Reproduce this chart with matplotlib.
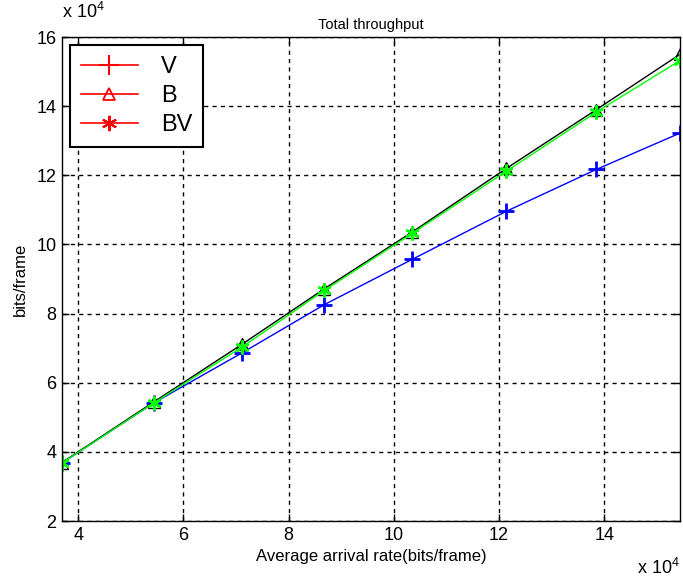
import matplotlib
matplotlib.use("Agg")
import matplotlib.pyplot as plt
from matplotlib.lines import Line2D
from matplotlib.ticker import FuncFormatter

plt.rcParams['font.family'] = ['Liberation Sans', 'DejaVu Sans']
plt.rcParams['mathtext.fontset'] = 'custom'
plt.rcParams['mathtext.rm'] = 'Liberation Sans'

# average arrival rate (bits/frame)
arrival = [36900, 54400, 71200, 86800, 103500, 121400, 138500, 154400]

# total throughput (bits/frame)
thr_V = [36800, 54200, 68700, 82600, 95700, 109600, 121700, 132200]
thr_B = [36900, 54500, 71200, 87200, 103600, 122000, 139000, 155000]
thr_BV = [36800, 54200, 70400, 86700, 103200, 121200, 138300, 153200]

series_names = ['V', 'B', 'BV']
xticks = [40000, 60000, 80000, 100000, 120000, 140000]
yticks = [20000, 40000, 60000, 80000, 100000, 120000, 140000, 160000]

star = (6, 2, 0)  # thin asterisk, like matlab '*'

fig = plt.figure(figsize=(6.83, 5.8), dpi=100)
ax = fig.add_axes([62/683, 1 - 521/580, 618/683, 484/580])

ax.plot(arrival, thr_V, color='#0000ff', marker='+', markersize=11, mew=2, lw=1)
ax.plot(arrival, thr_B, color='black', marker='^', markersize=8, mfc='none', mew=1, lw=1)
ax.plot(arrival, thr_BV, color='#00ff00', marker=star, markersize=10, mew=1.8, lw=1)

ax.set_xlim(arrival[0], arrival[-1])
ax.set_ylim(20000, 160000)
ax.set_xticks(xticks)
ax.set_yticks(yticks)
fmt = FuncFormatter(lambda v, p: '%g' % (v / 1e4))
ax.xaxis.set_major_formatter(fmt)
ax.yaxis.set_major_formatter(fmt)
ax.tick_params(direction='in', top=True, right=True, length=5, width=1,
               labelsize=13, pad=4)
ax.grid(True, color='black', linestyle=(0, (3, 3)), linewidth=1)
for s in ax.spines.values():
    s.set_linewidth(1)

ax.set_title('Total throughput', fontsize=10.5, pad=6)
ax.set_xlabel('Average arrival rate(bits/frame)', fontsize=12, labelpad=4)
ax.set_ylabel('bits/frame', fontsize=12, labelpad=6)

fig.text(62/683, 1 - 22/580, r'x 10$^{4}$', fontsize=13, ha='left', va='bottom')
fig.text(680/683, 1 - 578/580, r'x 10$^{4}$', fontsize=13, ha='right', va='bottom')

handles = [
    Line2D([], [], color='red', marker='+', markersize=14, mew=1.5, lw=1.2),
    Line2D([], [], color='red', marker='^', markersize=9, mfc='none', mew=1.3, lw=1.2),
    Line2D([], [], color='red', marker=star, markersize=11, mew=1.5, lw=1.2),
]
leg = ax.legend(handles, series_names, loc='upper left', fontsize=17,
                fancybox=False, framealpha=1, edgecolor='black',
                handlelength=2.4, borderaxespad=0.35, labelspacing=0.3,
                borderpad=0.45, handletextpad=1.0)
leg.get_frame().set_linewidth(1.5)

fig.savefig('out.png', dpi=100)
